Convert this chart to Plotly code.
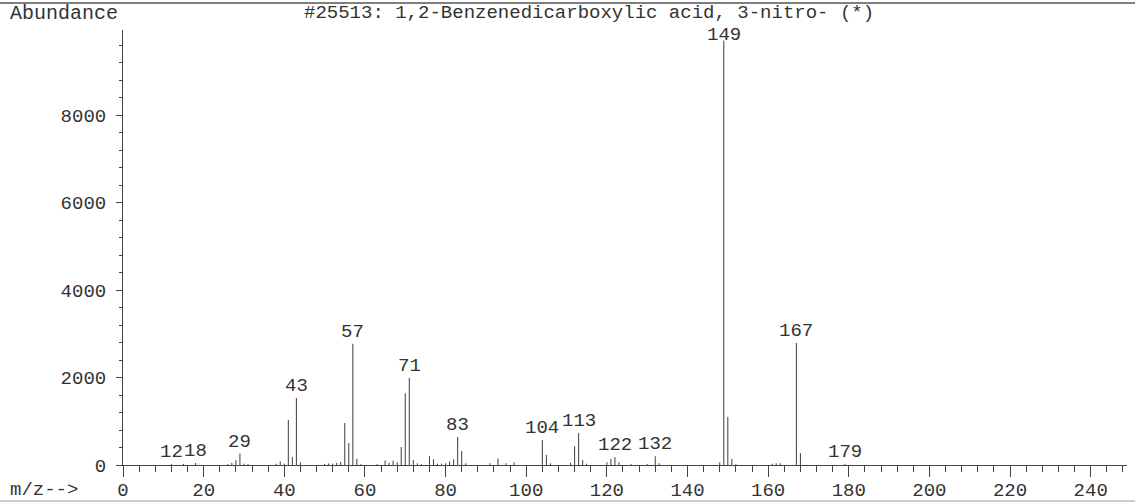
import plotly.graph_objects as go

# Mass spectrum: m/z values and their abundances
mz = [12, 15, 18, 26, 27, 28, 29, 30, 31, 38, 39, 40, 41, 42, 43, 44,
      50, 51, 52, 53, 54, 55, 56, 57, 58, 59, 63, 65, 66, 67, 68, 69,
      70, 71, 72, 73, 74, 76, 77, 78, 79, 80, 81, 82, 83, 84, 85, 91,
      93, 95, 97, 104, 105, 106, 111, 112, 113, 114, 115, 120, 121, 122,
      123, 126, 130, 132, 133, 148, 149, 150, 151, 152, 161, 162, 163,
      167, 168, 179]
abundance = [20, 25, 45, 20, 50, 110, 260, 30, 25, 30, 80, 30, 1030, 180, 1530, 60,
             25, 35, 30, 50, 70, 960, 500, 2770, 140, 20, 20, 100, 50, 100, 60, 410,
             1640, 1990, 110, 40, 20, 200, 130, 30, 30, 40, 80, 130, 640, 320, 40, 40,
             150, 40, 60, 570, 230, 40, 50, 430, 730, 110, 30, 60, 140, 180,
             60, 20, 20, 200, 40, 60, 9700, 1100, 140, 20, 30, 40, 40,
             2790, 270, 20]

# Peaks that carry an m/z label
labeled_mz = [12, 18, 29, 43, 57, 71, 83, 104, 113, 122, 132, 149, 167, 179]

title_text = "#25513: 1,2-Benzenedicarboxylic acid, 3-nitro- (*)"
x_ticks = list(range(0, 241, 20))
y_ticks = [0, 2000, 4000, 6000, 8000]

FONT = "Liberation Mono, Courier New, monospace"
INK = "#333333"
FS = 19
LABEL_CAP = 9550  # peak labels never rise above this abundance level

# Build stick segments from the peak table
xs, ys = [], []
for m, a in zip(mz, abundance):
    xs += [m, m, None]
    ys += [0, a, None]

fig = go.Figure()
fig.add_trace(go.Scatter(x=xs, y=ys, mode="lines",
                         line=dict(color="#3c3c3c", width=1),
                         hoverinfo="skip", showlegend=False))

peak = dict(zip(mz, abundance))
for m in labeled_mz:
    fig.add_annotation(x=m, y=min(peak.get(m, 0), LABEL_CAP), text=str(m), showarrow=False,
                       yanchor="bottom", xanchor="center", yshift=-1,
                       font=dict(family=FONT, size=FS, color=INK))

L, R, T, B = 123, 8, 30, 38
W, H = 1135, 503
pw, ph = W - L - R, H - T - B

def px(xpix):
    return (xpix - L) / pw

def py(ypix):
    return (H - B - ypix) / ph

fig.add_annotation(xref="paper", yref="paper", x=px(8), y=py(13),
                   text="Abundance", showarrow=False, xanchor="left", yanchor="middle",
                   font=dict(family=FONT, size=FS + 1, color=INK))
fig.add_annotation(xref="paper", yref="paper", x=px(589), y=py(13),
                   text=title_text, showarrow=False, xanchor="center", yanchor="middle",
                   font=dict(family=FONT, size=FS, color=INK))
fig.add_annotation(xref="paper", yref="paper", x=px(8), y=py(490),
                   text="m/z-->", showarrow=False, xanchor="left", yanchor="middle",
                   font=dict(family=FONT, size=FS, color=INK))

# Page frame lines
fig.add_shape(type="line", xref="paper", yref="paper", x0=px(0), x1=px(W),
              y0=py(3), y1=py(3), line=dict(color="#555555", width=1.5))
fig.add_shape(type="line", xref="paper", yref="paper", x0=px(0), x1=px(W),
              y0=py(501), y1=py(501), line=dict(color="#9a9a9a", width=1))

fig.update_xaxes(range=[0, 249], tickvals=x_ticks, ticks="outside", ticklen=11,
                 tickwidth=1, tickcolor="#444", showline=True, linecolor="#444",
                 linewidth=1, showgrid=False, zeroline=False, automargin=False,
                 ticklabelstandoff=-4,
                 minor=dict(dtick=4, tick0=0, ticks="outside", ticklen=6,
                            tickcolor="#444", showgrid=False),
                 tickfont=dict(family=FONT, size=FS, color=INK))
fig.update_yaxes(range=[0, 9943], tickvals=y_ticks, ticks="outside", ticklen=6,
                 tickwidth=1, tickcolor="#444", showline=True, linecolor="#444",
                 linewidth=1, showgrid=False, zeroline=False, automargin=False,
                 ticklabelstandoff=6,
                 minor=dict(dtick=400, tick0=0, ticks="outside", ticklen=3,
                            tickcolor="#444", showgrid=False),
                 tickfont=dict(family=FONT, size=FS, color=INK))

fig.update_layout(width=W, height=H, margin=dict(l=L, r=R, t=T, b=B, autoexpand=False),
                  paper_bgcolor="white", plot_bgcolor="white", showlegend=False)

fig.write_html("out.html")
